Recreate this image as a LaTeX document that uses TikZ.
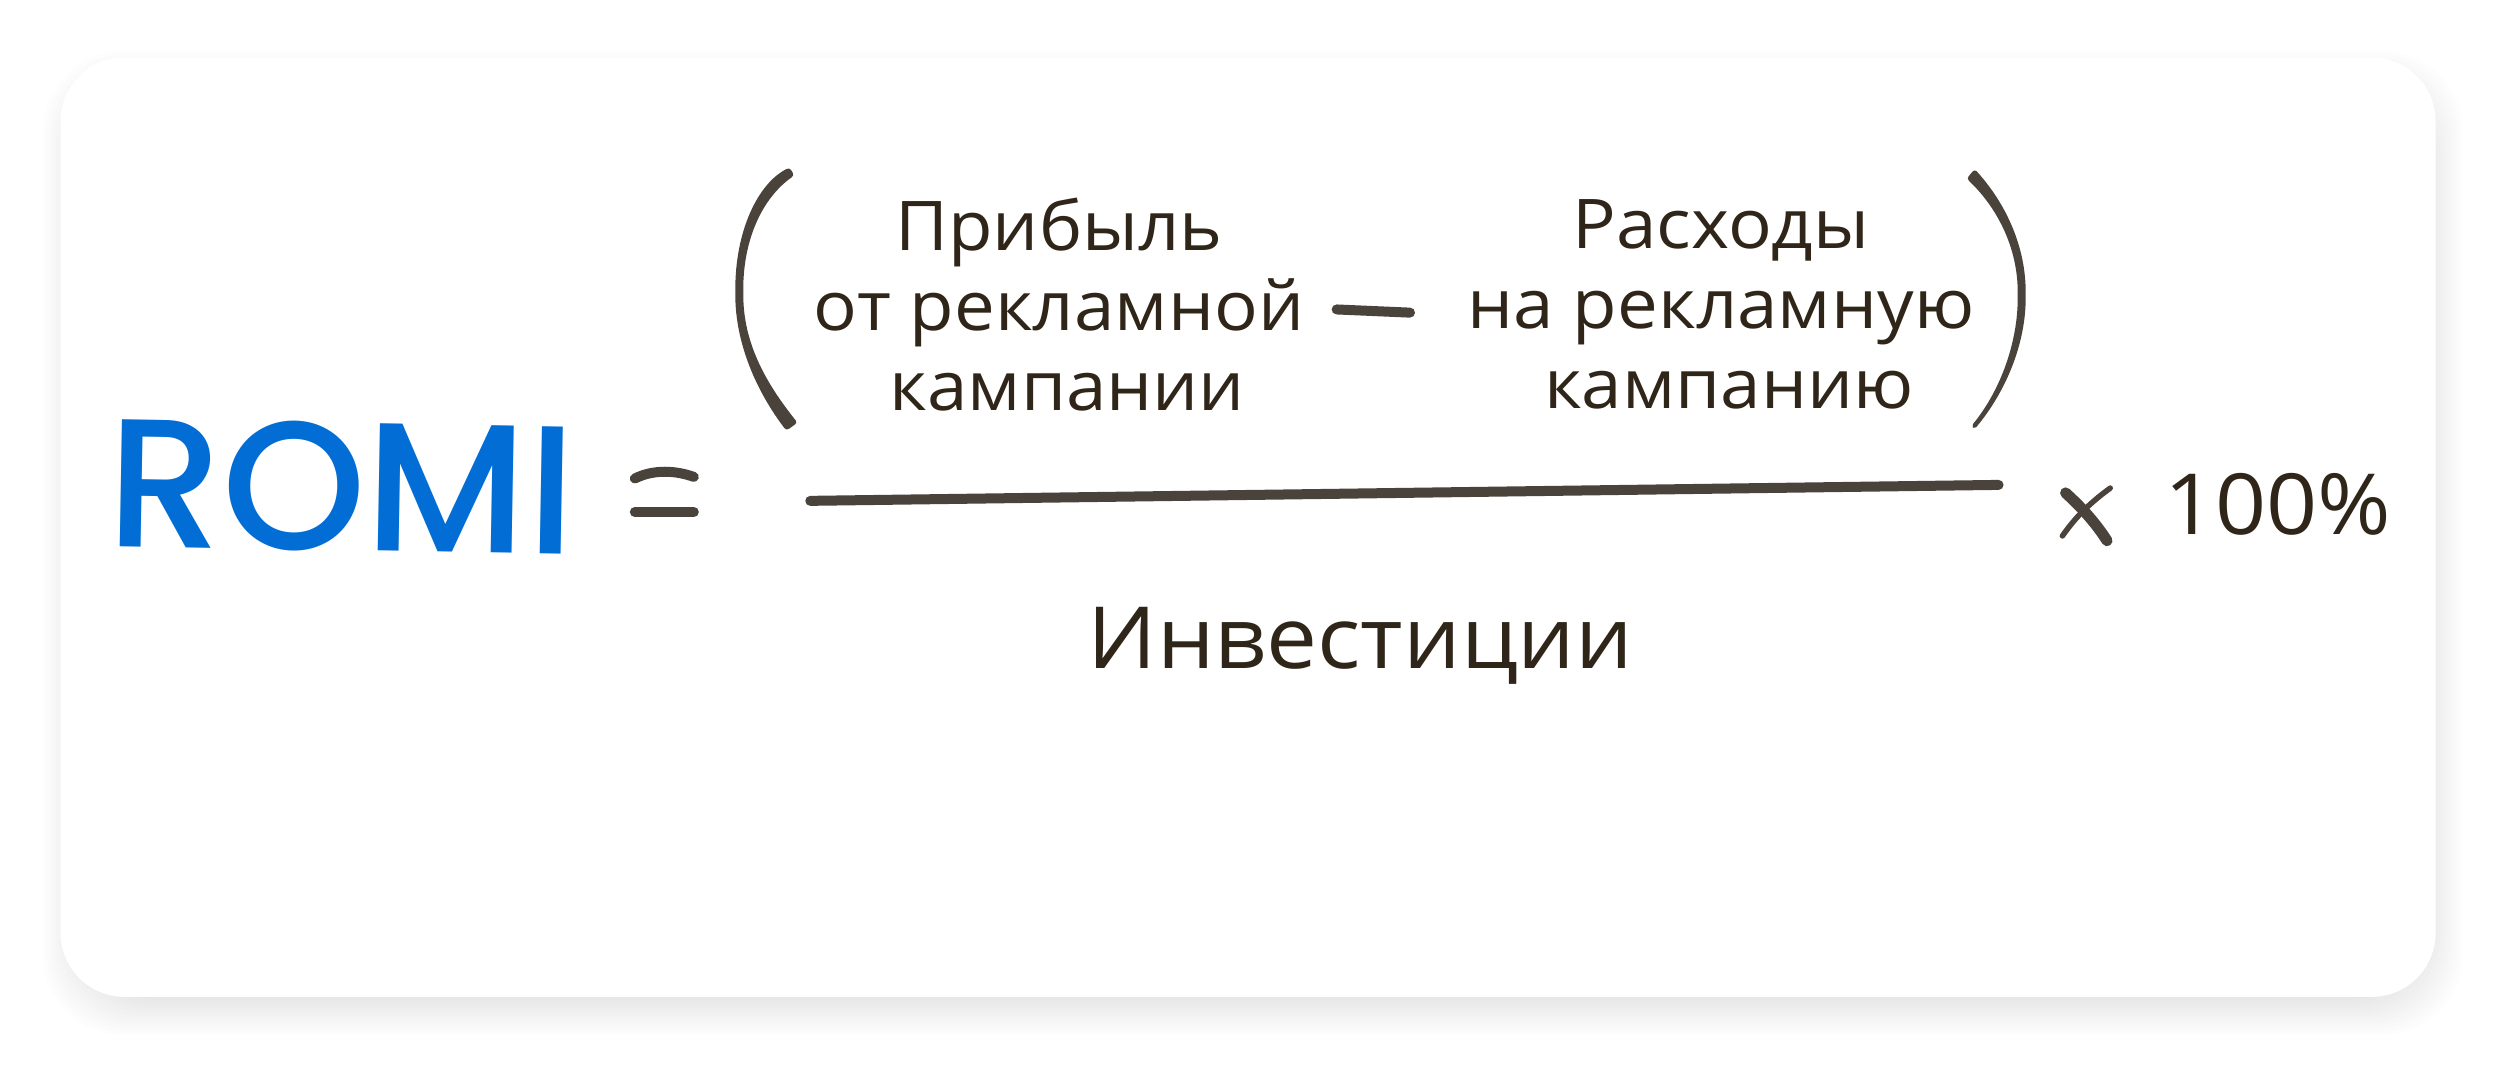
\documentclass[tikz,border=0pt]{standalone}
\usepackage{fontspec}
\setmainfont[FakeStretch=1.06]{Open Sans}
\newfontfamily\handfont{Poppins Medium}
\usepackage{tikz}
\definecolor{ink}{HTML}{2F2519}
\definecolor{pen}{HTML}{4A433C}
\definecolor{romiblue}{HTML}{016DD5}
\tikzset{
  term/.style={text=ink, align=center, inner sep=0pt, font=\fontsize{19.5}{22.7}\selectfont},
  stroke/.style={draw=pen, line width=#1, line cap=round},
  stroke/.default=0.1cm
}

\begin{document}
\begin{tikzpicture}[x=0.01595cm, y=-0.01595cm]
  \useasboundingbox (0, 0) rectangle (1568, 667.7);
  % soft shadow, then the card
  \foreach \e in {-8, -6, ..., 14}
    \fill[black, opacity=0.006, rounded corners=0.8cm] (38+3-\e, 36+10-\e) rectangle (1527+3+\e, 625+10+\e);
  \fill[white, rounded corners=0.64cm] (38, 36) rectangle (1527, 625);

  \node[text=romiblue, inner sep=0pt, font=\handfont\fontsize{52}{52}\selectfont, rotate=-1] (romi) at (214, 305) {ROMI};

  \node[term] (profit) at (664, 191) {Прибыль\\от рекламной\\\hspace*{0.16cm}кампании};
  \node[term] (costs) at (1079, 191) {Расходы\\на рекламную\\\hspace*{0.16cm}кампанию};
  \node[term, font=\fontsize{24.4}{24.4}\selectfont] (invest) at (853, 405) {Инвестиции};
  \node[term, font=\fontsize{24}{24}\selectfont] (hundred) at (1428, 316) {100\%};

  % hand drawn marks
  \fill[pen, rounded corners=0.03cm] (495, 105) .. controls (475, 115) and (461, 145) .. (461, 183)
    .. controls (461, 215) and (474, 245) .. (493, 270) -- (500, 265)
    .. controls (480, 240) and (466, 215) .. (466, 183)
    .. controls (466, 150) and (478, 124) .. (498, 110) -- cycle;
  \fill[pen, rounded corners=0.03cm] (1238, 106) .. controls (1258, 128) and (1270, 155) .. (1270, 185)
    .. controls (1270, 215) and (1258, 245) .. (1238, 269) -- (1236, 267)
    .. controls (1254, 245) and (1265, 215) .. (1265, 185)
    .. controls (1265, 155) and (1252, 130) .. (1233, 112) -- cycle;
  \coordinate (barleft) at (508, 314);
  \coordinate (barright) at (1253, 304);
  \draw[stroke] (barleft) -- (barright);
  \coordinate (minusleft) at (838, 194);
  \coordinate (minusright) at (884, 196);
  \draw[stroke] (minusleft) -- (minusright);
  \coordinate (eqleft) at (398, 300);
  \coordinate (eqright) at (435, 299);
  \draw[stroke] (eqleft) .. controls (410, 294) and (424, 295) .. (eqright);
  \coordinate (eqlowleft) at (398, 321);
  \coordinate (eqlowright) at (435, 321);
  \draw[stroke] (eqlowleft) -- (eqlowright);
  \coordinate (crossa) at (1295, 309);
  \coordinate (crossb) at (1321, 339);
  \coordinate (crossc) at (1323, 306);
  \coordinate (crossd) at (1293, 336);
  \draw[stroke=0.11cm] (crossa) .. controls (1305, 318) and (1314, 328) .. (crossb);
  \draw[stroke=0.055cm] (crossc) .. controls (1308, 317) and (1300, 326) .. (crossd);
\end{tikzpicture}
\end{document}
